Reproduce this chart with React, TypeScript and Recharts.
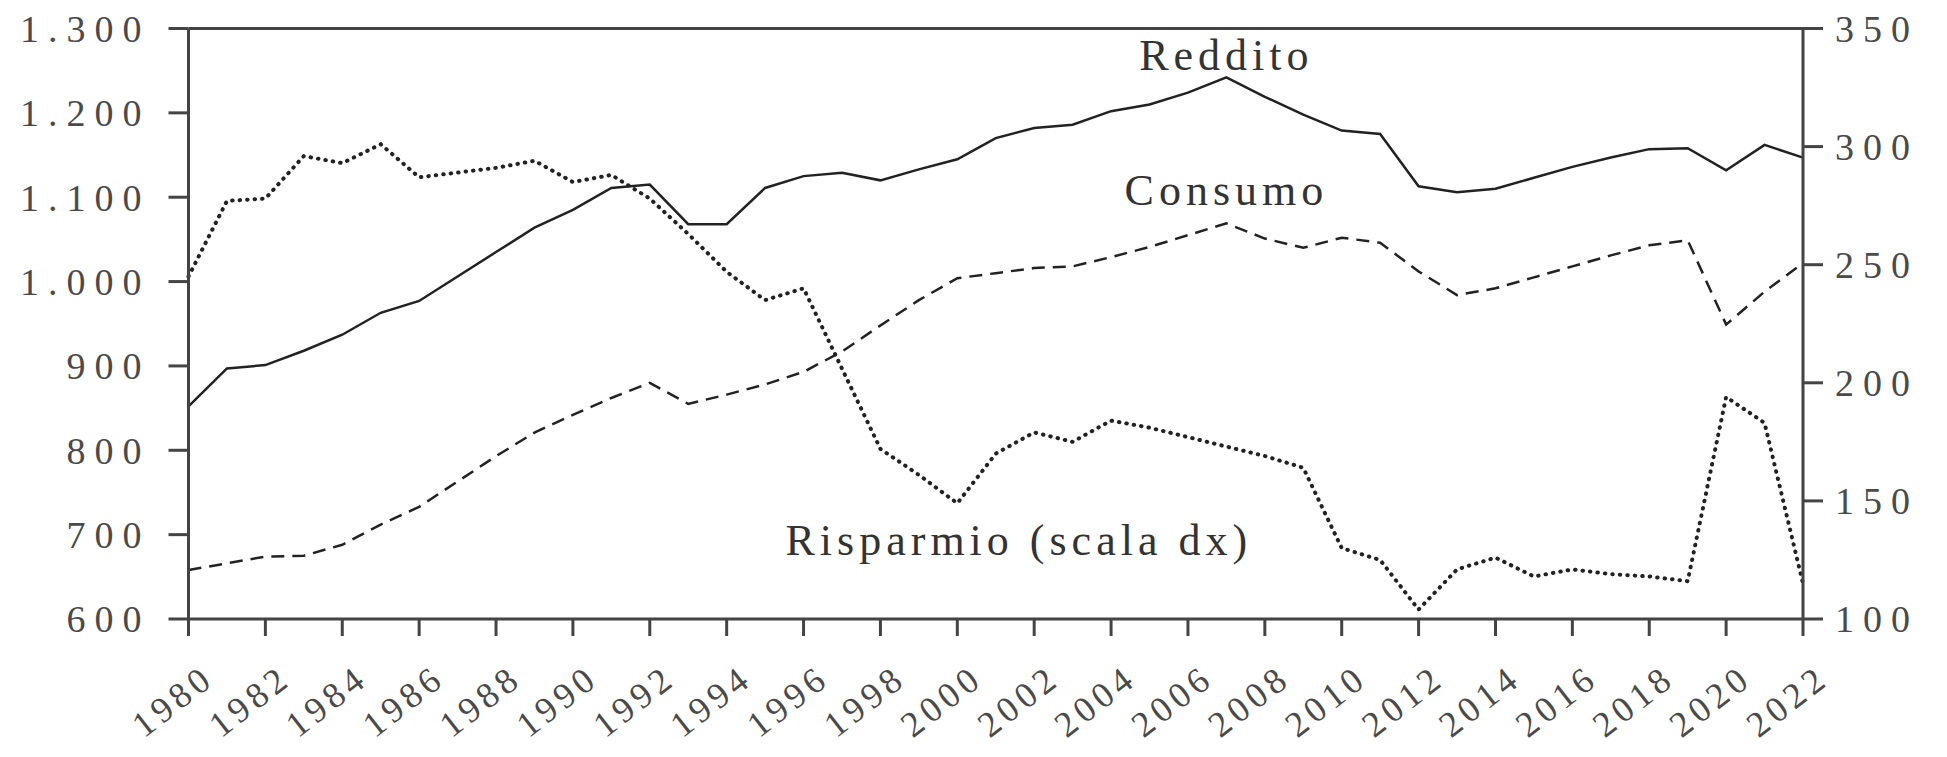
import { LineChart, Line, XAxis, YAxis, ReferenceLine, ReferenceDot } from "recharts";

const years = [
  1980, 1981, 1982, 1983, 1984, 1985, 1986, 1987, 1988, 1989, 1990, 1991, 1992, 1993, 1994,
  1995, 1996, 1997, 1998, 1999, 2000, 2001, 2002, 2003, 2004, 2005, 2006, 2007, 2008, 2009,
  2010, 2011, 2012, 2013, 2014, 2015, 2016, 2017, 2018, 2019, 2020, 2021, 2022,
];

// scala sinistra
const reddito = [
  852, 897, 901, 918, 937, 963, 977, 1006, 1035, 1064, 1085, 1111, 1115, 1068, 1068,
  1111, 1125, 1129, 1120, 1133, 1145, 1170, 1182, 1186, 1202, 1210, 1224, 1242, 1219, 1198,
  1179, 1175, 1113, 1106, 1110, 1123, 1136, 1147, 1157, 1158, 1132, 1162, 1147,
];

const consumo = [
  658, 666, 674, 675, 688, 712, 733, 763, 793, 821, 842, 862, 880, 855, 866,
  878, 893, 917, 948, 978, 1004, 1010, 1016, 1018, 1029, 1041, 1055, 1069, 1051, 1040,
  1052, 1046, 1012, 984, 992, 1005, 1018, 1031, 1043, 1049, 949, 988, 1022,
];

// scala destra
const risparmio = [
  245, 277, 278, 296, 293, 301, 287, 289, 291, 294, 285, 288, 278, 263, 247,
  235, 240, 206, 172, 161, 149, 170, 179, 175, 184, 181, 177, 173, 169, 164,
  130, 125, 104, 121, 126, 118, 121, 119, 118, 116, 194, 183, 115,
];

const yearTicks = [
  1980, 1982, 1984, 1986, 1988, 1990, 1992, 1994, 1996, 1998, 2000,
  2002, 2004, 2006, 2008, 2010, 2012, 2014, 2016, 2018, 2020, 2022,
];
const leftTicks = [600, 700, 800, 900, 1000, 1100, 1200, 1300];
const rightTicks = [100, 150, 200, 250, 300, 350];

const seriesLabels = [
  { text: "Reddito", year: 2007, value: 1251 },
  { text: "Consumo", year: 2007, value: 1091 },
  { text: "Risparmio (scala dx)", year: 2001.6, value: 676 },
];

const data = years.map((year, i) => ({
  year,
  reddito: reddito[i],
  consumo: consumo[i],
  risparmio: risparmio[i],
}));

const FONT = "'Liberation Serif', 'Times New Roman', serif";
const AXIS = "#444";
const INK = "#222";

const tickText = { fontFamily: FONT, fontSize: 38, fill: "#4a4a4a", letterSpacing: 9 };
const yearText = { fontFamily: FONT, fontSize: 36, fill: "#4a4a4a", letterSpacing: 5 };

function fmtLeft(v: number) {
  if (v < 1000) return String(v);
  return `${Math.floor(v / 1000)}.${String(v % 1000).padStart(3, "0")}`;
}

function YearTick(props: any) {
  const { x, y, payload } = props;
  const ax = x + 28;
  const ay = y + 44;
  return (
    <text
      x={ax}
      y={ay}
      textAnchor="end"
      transform={`rotate(-38, ${ax}, ${ay})`}
      style={yearText}
    >
      {payload.value}
    </text>
  );
}

function SeriesLabel(text: string) {
  return (p: any) => (
    <text
      x={p.cx}
      y={p.cy}
      textAnchor="middle"
      style={{ fontFamily: FONT, fontSize: 44, fill: "#333", letterSpacing: 5 }}
    >
      {text}
    </text>
  );
}

export default function App() {
  return (
    <div style={{ position: "absolute", left: 0, top: 0, width: 1947, height: 757, background: "#fff" }}>
      <LineChart
        width={1947}
        height={757}
        data={data}
        margin={{ top: 28.5, right: 0, bottom: 0, left: 0 }}
      >
        <XAxis
          dataKey="year"
          type="number"
          domain={[1980, 2022]}
          ticks={yearTicks}
          interval={0}
          height={138}
          tickSize={17}
          axisLine={{ stroke: AXIS, strokeWidth: 3 }}
          tickLine={{ stroke: AXIS, strokeWidth: 3 }}
          tick={<YearTick />}
        />
        <YAxis
          yAxisId="left"
          domain={[600, 1300]}
          ticks={leftTicks}
          interval={0}
          width={188.5}
          tickSize={20}
          tickMargin={18}
          tickFormatter={fmtLeft}
          axisLine={{ stroke: AXIS, strokeWidth: 3 }}
          tickLine={{ stroke: AXIS, strokeWidth: 3 }}
          tick={tickText}
        />
        <YAxis
          yAxisId="right"
          orientation="right"
          domain={[100, 350]}
          ticks={rightTicks}
          interval={0}
          width={144}
          tickSize={20}
          tickMargin={12}
          axisLine={{ stroke: AXIS, strokeWidth: 3 }}
          tickLine={{ stroke: AXIS, strokeWidth: 3 }}
          tick={tickText}
        />
        <ReferenceLine yAxisId="left" y={1300} stroke={AXIS} strokeWidth={3} />
        <Line
          yAxisId="left"
          dataKey="reddito"
          type="linear"
          stroke={INK}
          strokeWidth={2.5}
          dot={false}
          isAnimationActive={false}
        />
        <Line
          yAxisId="left"
          dataKey="consumo"
          type="linear"
          stroke={INK}
          strokeWidth={2.5}
          strokeDasharray="13 8"
          dot={false}
          isAnimationActive={false}
        />
        <Line
          yAxisId="right"
          dataKey="risparmio"
          type="linear"
          stroke={INK}
          strokeWidth={4}
          strokeDasharray="0.5 7"
          strokeLinecap="round"
          dot={false}
          isAnimationActive={false}
        />
        {seriesLabels.map((l) => (
          <ReferenceDot
            key={l.text}
            yAxisId="left"
            x={l.year}
            y={l.value}
            r={0}
            shape={SeriesLabel(l.text)}
          />
        ))}
      </LineChart>
    </div>
  );
}
